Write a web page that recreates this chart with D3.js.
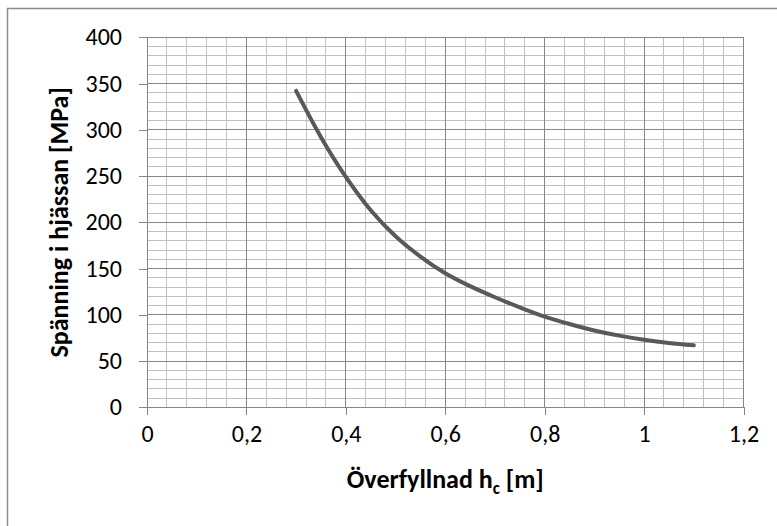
<!DOCTYPE html>
<html>
<head>
<meta charset="utf-8">
<script src="https://cdn.jsdelivr.net/npm/d3@7"></script>
<style>
  body { margin: 0; background: #fff; }
  svg { display: block; font-family: Calibri, Carlito, Lato, "Liberation Sans", sans-serif; }
</style>
</head>
<body>
<div id="chart"></div>
<script>
const width = 777;
const height = 526;
const margin = { top: 37.3, right: 33.5, bottom: 118.7, left: 147 };

// Överfyllnad h_c [m]
const overfyllnad = [0.3, 0.35, 0.4, 0.45, 0.5, 0.55, 0.6, 0.65, 0.7, 0.75, 0.8, 0.85, 0.9, 0.95, 1.0, 1.05, 1.1];
// Spänning i hjässan [MPa]
const spanning = [342, 292, 249, 213, 185, 163, 145, 131, 119, 108, 98, 90, 83, 77.5, 73, 69.5, 67];

const xTicks = [0, 0.2, 0.4, 0.6, 0.8, 1.0, 1.2];
const yTicks = [0, 50, 100, 150, 200, 250, 300, 350, 400];
const xMinorStep = 0.04;
const yMinorStep = 10;

const xTitle = "Överfyllnad h";
const xTitleSub = "c";
const xTitleEnd = " [m]";
const yTitle = "Spänning i hjässan [MPa]";

const data = overfyllnad.map((h, i) => ({ h: h, s: spanning[i] }));

const sv = d3.formatLocale({ decimal: ",", thousands: " ", grouping: [3], currency: ["", " kr"] });
const fmt = sv.format(".1~f");

const svg = d3.select("#chart")
  .append("svg")
  .attr("width", width)
  .attr("height", height);

// chart area frame (only left and top edges are inside the picture)
svg.append("path")
  .attr("d", "M7.5,526 L7.5,8.5 L777,8.5")
  .attr("fill", "none")
  .attr("stroke", "#8c8c8c")
  .attr("stroke-width", 1.5);

const x = d3.scaleLinear()
  .domain([0, 1.2])
  .range([margin.left, width - margin.right]);

const y = d3.scaleLinear()
  .domain([0, 400])
  .range([height - margin.bottom, margin.top]);

const xMinor = d3.range(0, 1.2 + 1e-9, xMinorStep);
const yMinor = d3.range(0, 400 + 1e-9, yMinorStep);

const grid = svg.append("g").attr("shape-rendering", "crispEdges");

// minor grid
grid.append("g")
  .selectAll("line")
  .data(xMinor)
  .join("line")
  .attr("x1", (d) => x(d))
  .attr("x2", (d) => x(d))
  .attr("y1", y(0))
  .attr("y2", y(400))
  .attr("stroke", "#c0c0c0")
  .attr("stroke-width", 1);

grid.append("g")
  .selectAll("line")
  .data(yMinor)
  .join("line")
  .attr("x1", x(0))
  .attr("x2", x(1.2))
  .attr("y1", (d) => y(d))
  .attr("y2", (d) => y(d))
  .attr("stroke", "#c0c0c0")
  .attr("stroke-width", 1);

// major grid
grid.append("g")
  .selectAll("line")
  .data(xTicks)
  .join("line")
  .attr("x1", (d) => x(d))
  .attr("x2", (d) => x(d))
  .attr("y1", y(0))
  .attr("y2", y(400))
  .attr("stroke", "#868686")
  .attr("stroke-width", 1);

grid.append("g")
  .selectAll("line")
  .data(yTicks)
  .join("line")
  .attr("x1", x(0))
  .attr("x2", x(1.2))
  .attr("y1", (d) => y(d))
  .attr("y2", (d) => y(d))
  .attr("stroke", "#868686")
  .attr("stroke-width", 1);

// axes
const xAxis = svg.append("g")
  .attr("transform", `translate(0,${y(0)})`)
  .call(d3.axisBottom(x).tickValues(xTicks).tickFormat(fmt).tickSize(8).tickPadding(10));

const yAxis = svg.append("g")
  .attr("transform", `translate(${x(0)},0)`)
  .call(d3.axisLeft(y).tickValues(yTicks).tickSize(8).tickPadding(17));

[xAxis, yAxis].forEach((a) => {
  a.select(".domain").attr("stroke", "#868686").attr("shape-rendering", "crispEdges");
  a.selectAll(".tick line").attr("stroke", "#868686").attr("shape-rendering", "crispEdges");
  a.selectAll(".tick text")
    .attr("fill", "#000")
    .style("font-size", "24px")
    .style("font-family", "Calibri, Carlito, Lato, 'Liberation Sans', sans-serif");
});

// curve
const line = d3.line()
  .x((d) => x(d.h))
  .y((d) => y(d.s))
  .curve(d3.curveCatmullRom.alpha(0.5));

svg.append("path")
  .datum(data)
  .attr("fill", "none")
  .attr("stroke", "#595959")
  .attr("stroke-width", 4)
  .attr("stroke-linecap", "round")
  .attr("stroke-linejoin", "round")
  .attr("d", line);

// axis titles
const xt = svg.append("text")
  .attr("x", (x(0) + x(1.2)) / 2)
  .attr("y", 488)
  .attr("text-anchor", "middle")
  .attr("font-weight", "bold")
  .style("font-size", "26px");
xt.append("tspan").text(xTitle);
xt.append("tspan").attr("dy", 6).style("font-size", "17px").text(xTitleSub);
xt.append("tspan").attr("dy", -6).text(xTitleEnd);

svg.append("text")
  .attr("transform", `translate(68,${(y(0) + y(400)) / 2}) rotate(-90)`)
  .attr("text-anchor", "middle")
  .attr("font-weight", "bold")
  .style("font-size", "26px")
  .text(yTitle);
</script>
</body>
</html>
